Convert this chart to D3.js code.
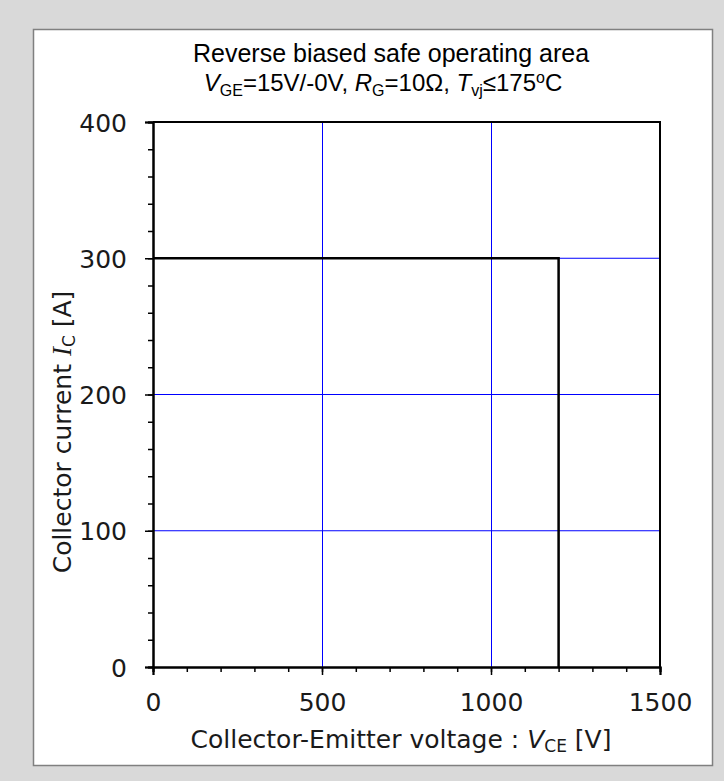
<!DOCTYPE html>
<html>
<head>
<meta charset="utf-8">
<script src="https://cdn.jsdelivr.net/npm/d3@7"></script>
<style>
  html, body { margin: 0; padding: 0; background: #d9d9d9; }
  svg { display: block; }
</style>
</head>
<body>
<svg id="chart" width="724" height="781"></svg>
<script>
// RBSOA boundary: collector-emitter voltage [V] vs collector current [A]
const soaVoltage = [0, 1200, 1200];
const soaCurrent = [300, 300, 0];

// Axis ticks and grid
const xMajorTicks = [0, 500, 1000, 1500];
const xMinorTicks = d3.range(0, 1501, 100);
const yMajorTicks = [0, 100, 200, 300, 400];
const yMinorTicks = d3.range(0, 401, 20);
const xGridValues = [500, 1000];
const yGridValues = [100, 200, 300];

const W = 724, H = 781;
const plot = { left: 153, right: 660, top: 122, bottom: 667 };

const svg = d3.select("#chart");

// Panel
svg.append("rect")
  .attr("x", 0).attr("y", 0).attr("width", W).attr("height", H)
  .attr("fill", "#d9d9d9");
svg.append("rect")
  .attr("x", 33.5).attr("y", 29.5).attr("width", 679).attr("height", 736)
  .attr("fill", "#ffffff").attr("stroke", "#808080").attr("stroke-width", 1.5);

const x = d3.scaleLinear().domain([0, 1500]).range([plot.left, plot.right]);
const y = d3.scaleLinear().domain([0, 400]).range([plot.bottom, plot.top]);

// Grid lines
const grid = svg.append("g");
grid.selectAll("line.gx").data(xGridValues).join("line")
  .attr("class", "gx")
  .attr("x1", d => Math.round(x(d)) + 0.5).attr("x2", d => Math.round(x(d)) + 0.5)
  .attr("y1", plot.top).attr("y2", plot.bottom)
  .attr("stroke", "#0000ff").attr("stroke-width", 1);
grid.selectAll("line.gy").data(yGridValues).join("line")
  .attr("class", "gy")
  .attr("y1", d => y(d)).attr("y2", d => y(d))
  .attr("x1", plot.left).attr("x2", plot.right)
  .attr("stroke", "#0000ff").attr("stroke-width", 1);

// Frame (top and right edges)
svg.append("path")
  .attr("d", `M${plot.left},${plot.top}H${plot.right}V${plot.bottom}`)
  .attr("fill", "none").attr("stroke", "#000").attr("stroke-width", 2);

// Axes: minor ticks
const tickFont = "'DejaVu Sans', Verdana, sans-serif";
const xMinor = svg.append("g").attr("transform", `translate(0,${plot.bottom})`)
  .call(d3.axisBottom(x).tickValues(xMinorTicks).tickSize(5).tickFormat(""));
const yMinor = svg.append("g").attr("transform", `translate(${plot.left},0)`)
  .call(d3.axisLeft(y).tickValues(yMinorTicks).tickSize(5).tickFormat(""));

// Axes: major ticks with labels
const xAxis = svg.append("g").attr("transform", `translate(0,${plot.bottom})`)
  .call(d3.axisBottom(x).tickValues(xMajorTicks).tickSize(8).tickPadding(18).tickFormat(d3.format("d")));
const yAxis = svg.append("g").attr("transform", `translate(${plot.left},0)`)
  .call(d3.axisLeft(y).tickValues(yMajorTicks).tickSize(8).tickPadding(18).tickFormat(d3.format("d")));

[xMinor, yMinor, xAxis, yAxis].forEach(g => {
  g.selectAll(".domain").attr("stroke", "#000").attr("stroke-width", 2);
  g.selectAll(".tick line").attr("stroke", "#000").attr("stroke-width", 1.5);
  g.selectAll("text").attr("font-family", tickFont).attr("font-size", 25).attr("fill", "#1a1a1a");
});
yAxis.selectAll("text").attr("dy", "0.36em");

// SOA boundary
const line = d3.line().x((d, i) => x(soaVoltage[i])).y((d, i) => y(soaCurrent[i]));
svg.append("path")
  .datum(soaVoltage)
  .attr("d", line)
  .attr("fill", "none").attr("stroke", "#000").attr("stroke-width", 2.5)
  .attr("stroke-linejoin", "miter");

// Title
const titleFont = "'Liberation Sans', Arial, sans-serif";
svg.append("text")
  .attr("font-family", titleFont).attr("font-size", 25).attr("fill", "#000")
  .attr("text-anchor", "middle").attr("x", 391).attr("y", 62)
  .text("Reverse biased safe operating area");

const sub = svg.append("text")
  .attr("font-family", titleFont).attr("font-size", 24).attr("fill", "#000")
  .attr("text-anchor", "middle").attr("x", 383).attr("y", 91);
sub.append("tspan").attr("font-style", "italic").text("V");
sub.append("tspan").attr("font-size", 16).attr("dy", 5).text("GE");
sub.append("tspan").attr("dy", -5).text("=15V/-0V, ");
sub.append("tspan").attr("font-style", "italic").text("R");
sub.append("tspan").attr("font-size", 16).attr("dy", 5).text("G");
sub.append("tspan").attr("dy", -5).text("=10Ω, ");
sub.append("tspan").attr("font-style", "italic").text("T");
sub.append("tspan").attr("font-size", 16).attr("dy", 5).text("vj");
sub.append("tspan").attr("dy", -5).text("≤175");
sub.append("tspan").attr("font-size", 16).attr("dy", -8).text("o");
sub.append("tspan").attr("dy", 8).text("C");

// X axis title
const xTitle = svg.append("text")
  .attr("font-family", tickFont).attr("font-size", 25).attr("fill", "#1a1a1a")
  .attr("text-anchor", "middle").attr("x", 401).attr("y", 748);
xTitle.append("tspan").text("Collector-Emitter voltage : ");
xTitle.append("tspan").attr("font-style", "italic").text("V");
xTitle.append("tspan").attr("font-size", 17).attr("dy", 4).text("CE");
xTitle.append("tspan").attr("dy", -4).text(" [V]");

// Y axis title
const yTitle = svg.append("text")
  .attr("font-family", tickFont).attr("font-size", 25).attr("fill", "#1a1a1a")
  .attr("text-anchor", "middle")
  .attr("transform", "translate(71,432) rotate(-90)");
yTitle.append("tspan").text("Collector current ");
yTitle.append("tspan").attr("font-family", "'Liberation Serif', 'DejaVu Serif', serif")
  .attr("font-style", "italic").attr("font-size", 27).text("I");
yTitle.append("tspan").attr("font-size", 17).attr("dy", 4).text("C");
yTitle.append("tspan").attr("dy", -4).text(" [A]");
</script>
</body>
</html>
